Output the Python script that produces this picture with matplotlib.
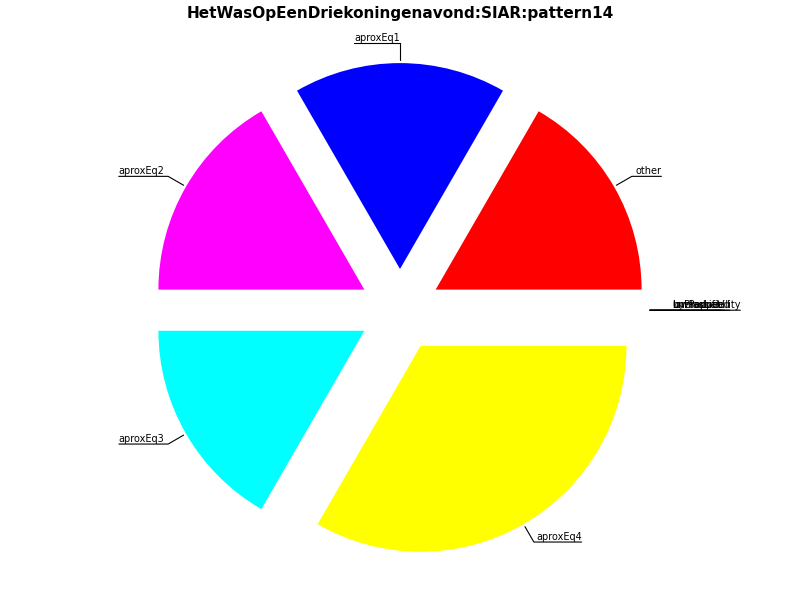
import numpy as np
import matplotlib
matplotlib.use("Agg")
import matplotlib.pyplot as plt

#==========================================================================
# Data
#==========================================================================
title = "HetWasOpEenDriekoningenavond:SIAR:pattern14"
labels = ["other", "aproxEq1", "aproxEq2", "aproxEq3", "aproxEq4",
          "unmapped", "byProduct", "lowProbability", "unclassified"]
counts = [1, 1, 1, 1, 2, 0, 0, 0, 0]
colors = ["red", "blue", "magenta", "cyan", "yellow",
          "green", "black", "gray", "orange"]

#==========================================================================
# Plot
#==========================================================================
fig = plt.figure(figsize=(8, 6), dpi=100)
ax = fig.add_axes([0.1, 0.054, 0.8, 0.858])

explode = [0.2] * len(counts)
wedges, _ = ax.pie(counts, colors=colors, explode=explode, startangle=0)
ax.set_aspect("equal")

total = float(sum(counts))
start = 0.0
for w, lab, c in zip(wedges, labels, counts):
    ang = start + 360.0 * c / total / 2.0
    start += 360.0 * c / total
    x = np.cos(np.deg2rad(ang))
    y = np.sin(np.deg2rad(ang))
    right = x > 0.01
    ha = "left" if right else "right"
    relpos = (1, 0) if right else (0, 0)
    if abs(y) < 1e-3:
        cs = "arc3"
    else:
        cs = "angle,angleA=0,angleB={}".format(ang)
    ax.annotate(lab, xy=(1.2 * x, 1.2 * y), xytext=(1.32 * x, 1.3 * y),
                ha=ha, va="bottom", fontsize=7,
                arrowprops=dict(arrowstyle="-", connectionstyle=cs,
                                relpos=relpos, patchA=None, shrinkA=0,
                                color="black", lw=0.8))

fig.suptitle(title, fontsize=11, fontweight="bold", y=0.99)
fig.savefig("out.png", dpi=100)
